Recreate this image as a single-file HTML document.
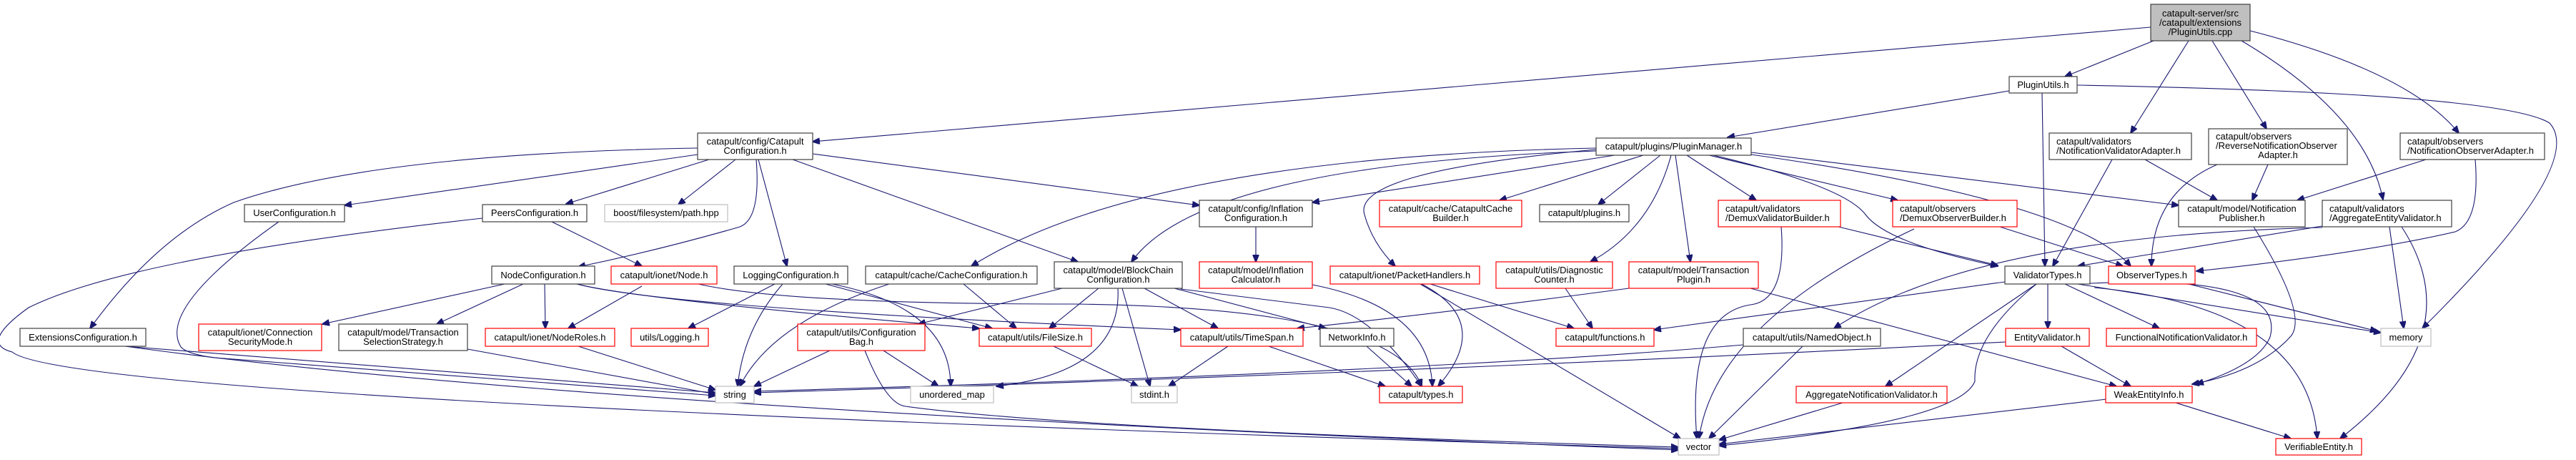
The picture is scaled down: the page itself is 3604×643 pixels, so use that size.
<!DOCTYPE html>
<html><head><meta charset="utf-8"><style>
html,body{margin:0;padding:0;background:#fff;width:3604px;height:643px;overflow:hidden}
svg{display:block}
text{font-family:"Liberation Sans",Arial,sans-serif;font-size:13px;fill:#000}
.e{fill:none;stroke:#191970;stroke-width:1.1}
.b{fill:#fff;stroke:#404040;stroke-width:1.2}
.r{fill:#fff;stroke:#ff0000;stroke-width:1.2}
.g{fill:#fff;stroke:#bfbfbf;stroke-width:1.2}
</style></head><body>
<svg width="3604" height="643" viewBox="0 0 3604 643" xmlns="http://www.w3.org/2000/svg">
<defs><marker id="a" markerWidth="11" markerHeight="9" refX="10" refY="4.5" orient="auto" markerUnits="userSpaceOnUse"><path d="M0,0 L11,4.5 L0,9 z" fill="#191970" stroke="#191970"/></marker></defs>
<g class="e" marker-end="url(#a)">
<!-- root -->
<path d="M3009,38 L1137,198"/>
<path d="M3013,57 L2889,107"/>
<path d="M3062,57 L2981,186"/>
<path d="M3095,57 L3171,180"/>
<path d="M3136,57 Q3310,160 3334,279"/>
<path d="M3148,43 Q3370,100 3440,186"/>
<!-- PluginUtils -->
<path d="M2811,127 L2417,192"/>
<path d="M2857,130 L2861,372"/>
<path d="M2906,119 Q3500,130 3567,172 Q3620,230 3389,459"/>
<!-- NVA, RNOA, NOA -->
<path d="M2955,223 L2872,372"/>
<path d="M3001,223 L3102,280"/>
<path d="M3173,230 L3151,280"/>
<path d="M3102,230 Q3010,270 3010,372"/>
<path d="M3394,223 L3214,280"/>
<path d="M3463,223 Q3470,310 3435,324 Q3300,355 3073,379"/>
<!-- AEV -->
<path d="M3249,316 Q3100,340 2907,372"/>
<path d="M3343,317 L3363,459"/>
<path d="M3360,317 Q3460,470 3274,613"/>
<path d="M3249,318 Q2760,330 2566,459"/>
<!-- NP -->
<path d="M3153,317 Q3230,440 3205,470 Q3160,520 3067,537"/>
<!-- PluginManager -->
<path d="M2299,217 L2098,280"/>
<path d="M2323,217 L2236,286"/>
<path d="M2360,217 L2457,280"/>
<path d="M2391,217 L2655,280"/>
<path d="M2338,217 Q2310,320 2225,366"/>
<path d="M2344,217 L2365,366"/>
<path d="M2233,209 Q1890,240 1909,300 Q1920,340 1952,372"/>
<path d="M2259,217 L1836,283"/>
<path d="M2233,211 Q1680,230 1583,366"/>
<path d="M2233,207 Q1600,220 1359,372"/>
<path d="M2397,217 Q2580,260 2610,300 Q2640,340 2795,372"/>
<path d="M2450,213 L3048,287"/>
<path d="M2450,216 Q2900,280 2981,372"/>
<!-- CatapultConfiguration -->
<path d="M976,216 L482,287"/>
<path d="M992,223 L792,285"/>
<path d="M1029,223 L949,286"/>
<path d="M1058,223 Q1065,310 1032,318 Q920,350 809,373"/>
<path d="M1061,223 L1101,372"/>
<path d="M1109,223 L1508,366"/>
<path d="M1137,215 L1678,287"/>
<path d="M976,207 Q520,215 327,283 Q220,330 126,459"/>
<!-- UC, PC -->
<path d="M390,310 Q220,430 253,485 Q262,495 300,500 Q700,530 1001,553"/>
<path d="M772,310 L898,372"/>
<path d="M675,305 Q180,360 40,430 Q-30,480 17,492 Q100,560 2348,627"/>
<!-- NodeConfiguration -->
<path d="M706,397 L451,453"/>
<path d="M732,397 L611,453"/>
<path d="M762,397 L763,459"/>
<path d="M807,397 Q900,420 1370,459"/>
<path d="M807,397 Q930,430 1652,461"/>
<path d="M898,400 L795,459"/>
<path d="M977,397 Q1100,425 1500,425 Q1950,430 1989,540"/>
<!-- EC, TSS, NR -->
<path d="M175,484 L1001,549"/>
<path d="M175,484 Q800,570 2348,629"/>
<path d="M654,488 L1001,551"/>
<path d="M809,484 L1001,545"/>
<!-- LC -->
<path d="M1084,397 L963,459"/>
<path d="M1095,397 Q1040,460 1032,540"/>
<path d="M1155,397 L1388,459"/>
<path d="M1164,397 Q1330,430 1330,540"/>
<!-- CaC -->
<path d="M1244,397 Q1080,450 1035,540"/>
<path d="M1348,397 L1422,459"/>
<!-- BCC -->
<path d="M1486,403 L1285,453"/>
<path d="M1537,403 L1468,459"/>
<path d="M1564,403 Q1570,520 1394,540"/>
<path d="M1570,403 L1609,540"/>
<path d="M1601,403 L1704,459"/>
<path d="M1643,403 L1855,459"/>
<path d="M1652,404 Q1780,420 1860,430 Q1920,440 1989,540"/>
<!-- IC -->
<path d="M1757,317 L1757,366"/>
<path d="M1836,398 Q2000,430 2004,540"/>
<!-- CB -->
<path d="M1161,490 L1055,540"/>
<path d="M1236,490 L1313,540"/>
<path d="M1210,490 Q1240,565 1267,568 Q1500,600 2348,625"/>
<!-- FS, TS, NI -->
<path d="M1474,484 L1592,540"/>
<path d="M1718,484 L1635,540"/>
<path d="M1775,484 L1938,540"/>
<path d="M1912,484 L1975,540"/>
<!-- PH, DC, TP -->
<path d="M2001,397 L2202,459"/>
<path d="M1989,397 Q2090,450 2012,540"/>
<path d="M1987,397 L2351,613"/>
<path d="M2190,403 L2228,459"/>
<path d="M2449,403 L2961,540"/>
<path d="M2279,403 Q2000,440 1815,459"/>
<!-- DVB, DOB -->
<path d="M2572,317 L2795,371"/>
<path d="M2492,317 Q2500,420 2449,426 Q2360,440 2374,613"/>
<path d="M2798,317 L2970,372"/>
<path d="M2678,320 Q2400,450 2377,613"/>
<!-- VT -->
<path d="M2865,397 L2865,459"/>
<path d="M2889,397 L3021,459"/>
<path d="M2907,397 L3331,465"/>
<path d="M2907,397 Q3200,380 3176,471 Q3160,510 3073,537"/>
<path d="M2930,402 Q3230,430 3242,613"/>
<path d="M2805,394 L2314,461"/>
<path d="M2849,397 L2638,540"/>
<path d="M2849,397 Q2760,470 2763,533 Q2740,590 2405,623"/>
<!-- OT, EV, WEI, NO, ANV -->
<path d="M3062,397 L3326,463"/>
<path d="M2884,484 L2981,540"/>
<path d="M2806,478 Q2000,520 1055,549"/>
<path d="M2947,558 L2405,621"/>
<path d="M3044,563 L3205,613"/>
<path d="M2439,482 Q2000,520 1055,547"/>
<path d="M2522,484 L2391,613"/>
<path d="M2578,563 L2405,615"/>
</g>
<!-- nodes -->
<rect class="b" x="3009" y="6" width="139" height="51" style="fill:#bfbfbf"/>
<text x="3078.5" y="23" text-anchor="middle">catapult-server/src</text>
<text x="3078.5" y="36" text-anchor="middle">/catapult/extensions</text>
<text x="3078.5" y="49" text-anchor="middle">/PluginUtils.cpp</text>

<rect class="b" x="2811" y="107" width="95" height="23"/><text x="2858.5" y="123" text-anchor="middle">PluginUtils.h</text>

<rect class="b" x="976" y="186" width="161" height="37"/><text x="1056.5" y="202" text-anchor="middle">catapult/config/Catapult</text><text x="1056.5" y="215" text-anchor="middle">Configuration.h</text>
<rect class="b" x="2867" y="186" width="199" height="37"/><text x="2877" y="202">catapult/validators</text><text x="2877" y="215">/NotificationValidatorAdapter.h</text>
<rect class="b" x="3090" y="180" width="194" height="50"/><text x="3100" y="195">catapult/observers</text><text x="3100" y="208">/ReverseNotificationObserver</text><text x="3187" y="221" text-anchor="middle">Adapter.h</text>
<rect class="b" x="3358" y="186" width="202" height="37"/><text x="3368" y="202">catapult/observers</text><text x="3368" y="215">/NotificationObserverAdapter.h</text>
<rect class="b" x="2233" y="193" width="217" height="24"/><text x="2341.5" y="209" text-anchor="middle">catapult/plugins/PluginManager.h</text>

<rect class="b" x="342" y="286" width="140" height="24"/><text x="412" y="302" text-anchor="middle">UserConfiguration.h</text>
<rect class="b" x="675" y="286" width="146" height="24"/><text x="748" y="302" text-anchor="middle">PeersConfiguration.h</text>
<rect class="g" x="846" y="286" width="172" height="24"/><text x="932" y="302" text-anchor="middle">boost/filesystem/path.hpp</text>
<rect class="b" x="1678" y="280" width="158" height="37"/><text x="1757" y="296" text-anchor="middle">catapult/config/Inflation</text><text x="1757" y="309" text-anchor="middle">Configuration.h</text>
<rect class="r" x="1930" y="280" width="199" height="37"/><text x="2029.5" y="296" text-anchor="middle">catapult/cache/CatapultCache</text><text x="2029.5" y="309" text-anchor="middle">Builder.h</text>
<rect class="b" x="2154" y="286" width="125" height="24"/><text x="2216.5" y="302" text-anchor="middle">catapult/plugins.h</text>
<rect class="r" x="2404" y="280" width="171" height="37"/><text x="2414" y="296">catapult/validators</text><text x="2414" y="309">/DemuxValidatorBuilder.h</text>
<rect class="r" x="2648" y="280" width="174" height="37"/><text x="2658" y="296">catapult/observers</text><text x="2658" y="309">/DemuxObserverBuilder.h</text>
<rect class="b" x="3048" y="280" width="177" height="37"/><text x="3136.5" y="296" text-anchor="middle">catapult/model/Notification</text><text x="3136.5" y="309" text-anchor="middle">Publisher.h</text>
<rect class="b" x="3249" y="280" width="181" height="37"/><text x="3259" y="296">catapult/validators</text><text x="3259" y="309">/AggregateEntityValidator.h</text>

<rect class="b" x="688" y="372" width="144" height="25"/><text x="760" y="389" text-anchor="middle">NodeConfiguration.h</text>
<rect class="r" x="855" y="372" width="148" height="25"/><text x="929" y="389" text-anchor="middle">catapult/ionet/Node.h</text>
<rect class="b" x="1027" y="372" width="159" height="25"/><text x="1106.5" y="389" text-anchor="middle">LoggingConfiguration.h</text>
<rect class="b" x="1211" y="372" width="240" height="25"/><text x="1331" y="389" text-anchor="middle">catapult/cache/CacheConfiguration.h</text>
<rect class="b" x="1475" y="366" width="179" height="37"/><text x="1564.5" y="382" text-anchor="middle">catapult/model/BlockChain</text><text x="1564.5" y="395" text-anchor="middle">Configuration.h</text>
<rect class="r" x="1678" y="366" width="158" height="37"/><text x="1757" y="382" text-anchor="middle">catapult/model/Inflation</text><text x="1757" y="395" text-anchor="middle">Calculator.h</text>
<rect class="r" x="1861" y="372" width="209" height="25"/><text x="1965.5" y="389" text-anchor="middle">catapult/ionet/PacketHandlers.h</text>
<rect class="r" x="2093" y="366" width="163" height="37"/><text x="2174.5" y="382" text-anchor="middle">catapult/utils/Diagnostic</text><text x="2174.5" y="395" text-anchor="middle">Counter.h</text>
<rect class="r" x="2279" y="366" width="181" height="37"/><text x="2369.5" y="382" text-anchor="middle">catapult/model/Transaction</text><text x="2369.5" y="395" text-anchor="middle">Plugin.h</text>
<rect class="b" x="2805" y="372" width="119" height="25"/><text x="2864.5" y="389" text-anchor="middle">ValidatorTypes.h</text>
<rect class="r" x="2950" y="372" width="121" height="25"/><text x="3010.5" y="389" text-anchor="middle">ObserverTypes.h</text>

<rect class="b" x="28" y="459" width="176" height="25"/><text x="116" y="476" text-anchor="middle">ExtensionsConfiguration.h</text>
<rect class="r" x="278" y="453" width="172" height="37"/><text x="364" y="469" text-anchor="middle">catapult/ionet/Connection</text><text x="364" y="482" text-anchor="middle">SecurityMode.h</text>
<rect class="b" x="474" y="453" width="180" height="37"/><text x="564" y="469" text-anchor="middle">catapult/model/Transaction</text><text x="564" y="482" text-anchor="middle">SelectionStrategy.h</text>
<rect class="r" x="679" y="459" width="181" height="25"/><text x="769.5" y="476" text-anchor="middle">catapult/ionet/NodeRoles.h</text>
<rect class="r" x="883" y="459" width="108" height="25"/><text x="937" y="476" text-anchor="middle">utils/Logging.h</text>
<rect class="r" x="1116" y="453" width="178" height="37"/><text x="1205" y="469" text-anchor="middle">catapult/utils/Configuration</text><text x="1205" y="482" text-anchor="middle">Bag.h</text>
<rect class="r" x="1370" y="459" width="157" height="25"/><text x="1448.5" y="476" text-anchor="middle">catapult/utils/FileSize.h</text>
<rect class="r" x="1652" y="459" width="171" height="25"/><text x="1737.5" y="476" text-anchor="middle">catapult/utils/TimeSpan.h</text>
<rect class="b" x="1847" y="459" width="103" height="25"/><text x="1898.5" y="476" text-anchor="middle">NetworkInfo.h</text>
<rect class="r" x="2177" y="459" width="137" height="25"/><text x="2245.5" y="476" text-anchor="middle">catapult/functions.h</text>
<rect class="b" x="2439" y="459" width="192" height="25"/><text x="2535" y="476" text-anchor="middle">catapult/utils/NamedObject.h</text>
<rect class="r" x="2806" y="459" width="117" height="25"/><text x="2864.5" y="476" text-anchor="middle">EntityValidator.h</text>
<rect class="r" x="2947" y="459" width="210" height="25"/><text x="3052" y="476" text-anchor="middle">FunctionalNotificationValidator.h</text>
<rect class="g" x="3331" y="459" width="70" height="25"/><text x="3366" y="476" text-anchor="middle">memory</text>

<rect class="g" x="1001" y="540" width="54" height="23"/><text x="1028" y="556" text-anchor="middle">string</text>
<rect class="g" x="1274" y="540" width="116" height="23"/><text x="1332" y="556" text-anchor="middle">unordered_map</text>
<rect class="g" x="1583" y="540" width="64" height="23"/><text x="1615" y="556" text-anchor="middle">stdint.h</text>
<rect class="r" x="1930" y="540" width="116" height="23"/><text x="1988" y="556" text-anchor="middle">catapult/types.h</text>
<rect class="r" x="2513" y="540" width="211" height="23"/><text x="2618.5" y="556" text-anchor="middle">AggregateNotificationValidator.h</text>
<rect class="r" x="2946" y="540" width="121" height="23"/><text x="3006.5" y="556" text-anchor="middle">WeakEntityInfo.h</text>

<rect class="g" x="2348" y="613" width="57" height="23"/><text x="2376.5" y="629" text-anchor="middle">vector</text>
<rect class="r" x="3184" y="613" width="120" height="23"/><text x="3244" y="629" text-anchor="middle">VerifiableEntity.h</text>
</svg>
</body></html>
